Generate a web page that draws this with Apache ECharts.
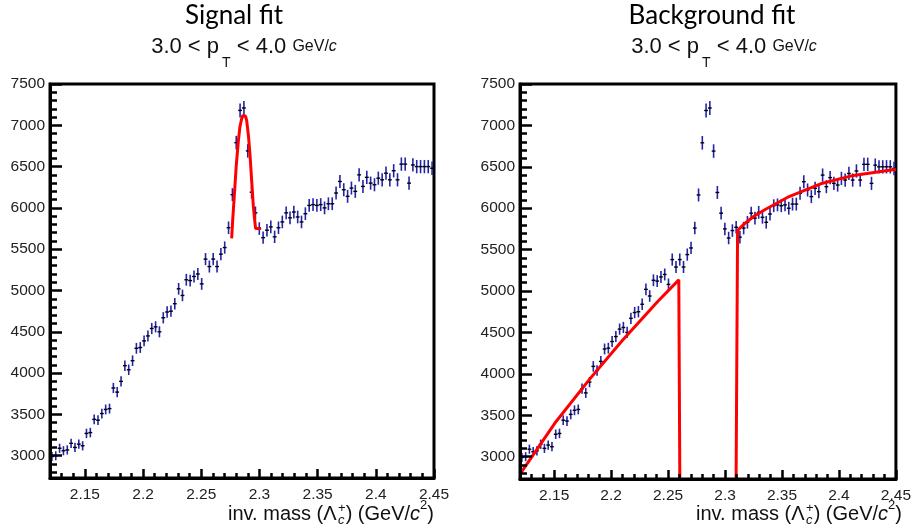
<!DOCTYPE html>
<html>
<head>
<meta charset="utf-8">
<script src="https://cdn.jsdelivr.net/npm/echarts@6/dist/echarts.min.js"></script>
<style>
  html, body { margin: 0; padding: 0; background: #fff; }
  #main { width: 914px; height: 531px; }
</style>
</head>
<body>
<div id="main"></div>
<script>
// histogram: 100 bins from 2.12 to 2.45 GeV/c^2
var binLow = 2.12;
var binWidth = 0.0033;
var counts = [
  2990, 3000, 3090, 3060, 3070, 3150, 3100, 3140, 3120, 3270,
  3280, 3440, 3430, 3510, 3560, 3570, 3820, 3770, 3900, 4090,
  4040, 4150, 4300, 4310, 4390, 4450, 4540, 4560, 4500, 4670,
  4740, 4750, 4840, 5020, 4940, 5130, 5120, 5170, 5200, 5080,
  5380, 5290, 5380, 5290, 5440, 5520, 5760, 6160, 6790, 7180,
  7210, 6690, 6190, 5940, 5750, 5640, 5730, 5770, 5650, 5760,
  5830, 5940, 5880, 5950, 5890, 5830, 5930, 6030, 6040, 6030,
  6040, 6000, 6050, 6050, 6180, 6320, 6220, 6140, 6240, 6200,
  6400, 6260, 6370, 6300, 6280, 6360, 6340, 6420, 6340, 6450,
  6340, 6530, 6530, 6300, 6520, 6500, 6500, 6500, 6500, 6480
];

// fit curves as drawn
var signalFit = [
  [2.2761, 5630], [2.2770, 5850], [2.2784, 6150], [2.2800, 6500], [2.2818, 6800],
  [2.2832, 6980], [2.2847, 7080], [2.2858, 7120], [2.2870, 7130], [2.2880, 7110],
  [2.2890, 7060], [2.2905, 6880], [2.2919, 6640], [2.2933, 6330], [2.2947, 6030],
  [2.2957, 5880], [2.2967, 5750], [2.3013, 5750]
];
var bgFitLow = [
  [2.12, 2790], [2.1517, 3425], [2.1808, 3930], [2.2096, 4400], [2.2413, 4880],
  [2.2594, 5135], [2.2603, 2730]
];
var bgFitHigh = [
  [2.3097, 2730], [2.3110, 5730], [2.3160, 5800], [2.3250, 5900], [2.3360, 5990],
  [2.3551, 6133], [2.3839, 6295], [2.4127, 6396], [2.4473, 6465], [2.45, 6468]
];

var xMin = 2.12, xMax = 2.45;
var yMin = 2730, yMax = 7500;

var panelTitles = ['Signal fit', 'Background fit'];

(function () {
  var labelFont = 'Liberation Sans';

  var points = counts.map(function (c, i) {
    return [binLow + binWidth * (i + 0.5), c, Math.sqrt(c)];
  });

  function renderErr(params, api) {
    var x = api.value(0), y = api.value(1), e = api.value(2);
    var h = binWidth / 2;
    var l = api.coord([x - h, y]), r = api.coord([x + h, y]);
    var t = api.coord([x, y + e]), b = api.coord([x, y - e]);
    return {
      type: 'group',
      children: [
        { type: 'line', shape: { x1: t[0], y1: t[1], x2: b[0], y2: b[1] },
          style: { stroke: '#2424a8', lineWidth: 1.6 } },
        { type: 'line', shape: { x1: l[0], y1: l[1], x2: r[0], y2: r[1] },
          style: { stroke: '#000', lineWidth: 1.4 } }
      ]
    };
  }

  function makeX(g) {
    return {
      type: 'value', gridIndex: g, min: xMin, max: xMax, z: 10,
      minInterval: 0.05, maxInterval: 0.05,
      axisLine: { show: true, onZero: false, lineStyle: { color: '#000', width: 3 } },
      axisTick: { show: true, inside: true, length: 9, lineStyle: { color: '#000', width: 2.5 } },
      minorTick: { show: true, splitNumber: 5, length: 5, lineStyle: { color: '#000', width: 2.5 } },
      axisLabel: { showMinLabel: false, showMaxLabel: true, margin: 9, color: '#222',
        fontSize: 15.5, fontFamily: labelFont },
      splitLine: { show: false }
    };
  }

  function makeY(g) {
    return {
      type: 'value', gridIndex: g, min: yMin, max: yMax, z: 10,
      minInterval: 500, maxInterval: 500,
      axisLine: { show: true, onZero: false, lineStyle: { color: '#000', width: 3 } },
      axisTick: { show: true, inside: true, length: 12, lineStyle: { color: '#000', width: 2.5 } },
      minorTick: { show: true, splitNumber: 5, length: 7, lineStyle: { color: '#000', width: 2.5 } },
      axisLabel: { showMinLabel: false, showMaxLabel: true, margin: 5, color: '#222',
        fontSize: 15.5, fontFamily: labelFont,
        formatter: function (v) { return String(Math.round(v)); } },
      splitLine: { show: false }
    };
  }

  function fitLine(data, g) {
    return {
      type: 'line', xAxisIndex: g, yAxisIndex: g, data: data,
      showSymbol: false, symbol: 'none',
      lineStyle: { color: '#ff0000', width: 3 }
    };
  }

  // Arial / Liberation Sans advance widths (em)
  var aw = { 'i': .222, 'n': .556, 'v': .5, '.': .278, ' ': .278, 'm': .833, 'a': .556,
    's': .5, '(': .333, ')': .333, '\u039b': .667, 'G': .778, 'e': .556, 'V': .667,
    '/': .278, 'c': .5, '+': .584, '2': .556, '3': .556, '0': .556, '<': .584,
    'p': .556, 'T': .611, '4': .556 };
  function textW(s, size) {
    var w = 0;
    for (var k = 0; k < s.length; k++) w += (aw[s[k]] || .556);
    return w * size;
  }
  function fontOf(p) {
    return (p.italic ? 'italic ' : '') + p.size + 'px "' + labelFont + '"';
  }
  function richLine(pieces, ax, ay, align) {
    var xs = [], cur = 0, prevX = 0, prevW = 0;
    pieces.forEach(function (p) {
      var w = textW(p.text, p.size);
      if (p.stack) {
        xs.push(prevX);
        cur = prevX + Math.max(prevW, w);
      } else {
        cur += p.padL || 0;
        xs.push(cur);
        prevX = cur; prevW = w;
        cur += w;
      }
    });
    var start = align === 'right' ? ax - cur : (align === 'center' ? ax - cur / 2 : ax);
    return pieces.map(function (p, i) {
      return {
        type: 'text', silent: true, x: start + xs[i], y: ay + (p.dy || 0),
        style: {
          text: p.text, font: fontOf(p), fill: '#111',
          align: 'left', verticalAlign: 'middle'
        }
      };
    });
  }

  var subtitle = [
    { text: '3.0 < p', size: 22 },
    { text: 'T', size: 14, dy: 16, padL: 3 },
    { text: ' < 4.0 ', size: 22 },
    { text: 'GeV/', size: 16 },
    { text: 'c', size: 16, italic: true }
  ];
  var axisName = [
    { text: 'inv. mass (\u039b', size: 20 },
    { text: 'c', size: 13, italic: true, dy: 5.5 },
    { text: '+', size: 13, dy: -6.5, stack: true },
    { text: ') (GeV/', size: 20 },
    { text: 'c', size: 20, italic: true },
    { text: '2', size: 13, dy: -9 },
    { text: ')', size: 20 }
  ];

  var grids = [
    { left: 50, top: 84, width: 384, height: 394 },
    { left: 520, top: 84, width: 382, height: 395 }
  ];
  var titleX = [234, 712];
  var subX = [244, 724];

  var graphics = [];
  grids.forEach(function (gr, g) {
    graphics.push({
      type: 'text', silent: true, x: titleX[g], y: 16,
      style: { text: panelTitles[g], font: '26px Lato', fill: '#000',
        align: 'center', verticalAlign: 'middle' }
    });
    graphics = graphics.concat(richLine(subtitle, subX[g], 47, 'center'));
    graphics = graphics.concat(richLine(axisName, gr.left + gr.width, 514.5, 'right'));
  });

  var option = {
    animation: false,
    grid: grids.map(function (gr) {
      return Object.assign({ show: true, borderColor: '#000', borderWidth: 3 }, gr);
    }),
    xAxis: [makeX(0), makeX(1)],
    yAxis: [makeY(0), makeY(1)],
    graphic: graphics,
    series: [
      { type: 'custom', xAxisIndex: 0, yAxisIndex: 0, data: points, renderItem: renderErr,
        encode: { x: 0, y: 1 }, clip: true },
      fitLine(signalFit, 0),
      { type: 'custom', xAxisIndex: 1, yAxisIndex: 1, data: points, renderItem: renderErr,
        encode: { x: 0, y: 1 }, clip: true },
      fitLine(bgFitLow, 1),
      fitLine(bgFitHigh, 1)
    ]
  };

  var chart = echarts.init(document.getElementById('main'));
  chart.setOption(option);
})();
</script>
</body>
</html>
